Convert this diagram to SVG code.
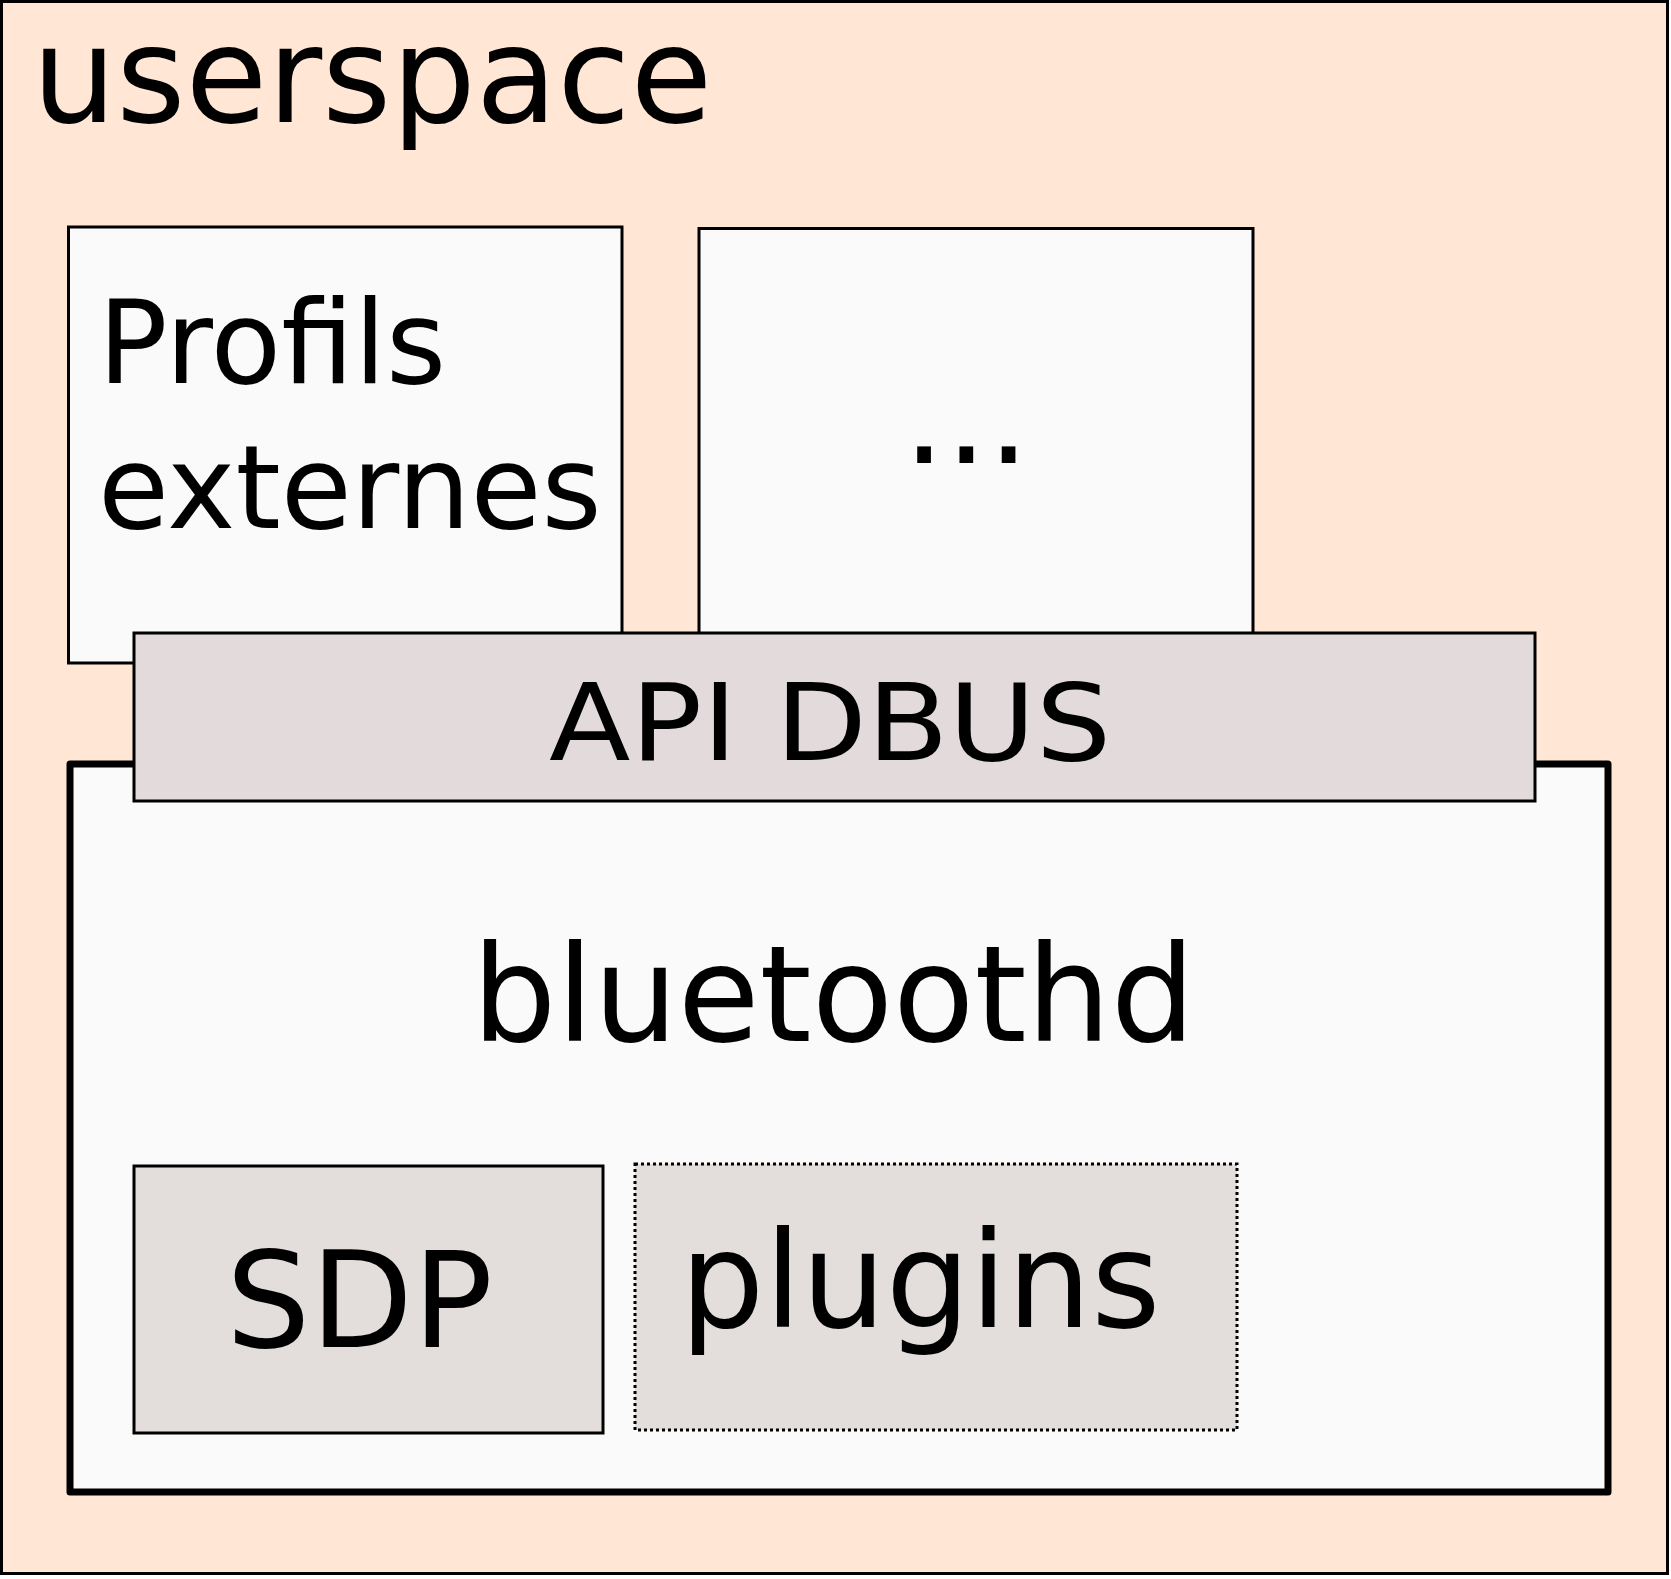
<svg xmlns="http://www.w3.org/2000/svg" width="1671" height="1579" viewBox="0 0 1671 1579">
<style>
text { font-family: "DejaVu Sans", "Liberation Sans", sans-serif; fill: #000; }
.box { stroke: #000; stroke-width: 3; }
.white { fill: #fafafa; }
.t133 { font-size: 133px; }
</style>
<g id="userspace">
<rect x="1.5" y="1.5" width="1666" height="1572" fill="#ffe6d5" stroke="#000" stroke-width="3"/>
<text class="t133" x="32" y="122">userspace</text>
</g>
<g id="profils">
<rect class="box white" x="68.5" y="227" width="553.5" height="436"/>
<text x="98" y="383" font-size="115.5">Profils</text>
<text x="98" y="528" font-size="115.5">externes</text>
</g>
<g id="etc">
<rect class="box white" x="699" y="228.5" width="554" height="450"/>
<text class="t133" x="903" y="463">...</text>
</g>
<g id="bluetoothd">
<rect class="white" x="70" y="764" width="1538" height="728" stroke="#000" stroke-width="7" stroke-linejoin="round"/>
<text class="t133" x="472" y="1041">bluetoothd</text>
</g>
<g id="api-dbus">
<rect class="box" x="134" y="633" width="1401" height="168" fill="#e3dbdb"/>
<text font-size="107" transform="translate(549 760) scale(1.113 1)" x="0" y="0">API DBUS</text>
</g>
<g id="sdp">
<rect class="box" x="134" y="1166" width="469" height="267" fill="#e3dedb"/>
<text class="t133" x="226" y="1347">SDP</text>
</g>
<g id="plugins">
<rect x="635" y="1164" width="602" height="266" fill="#e3dedb" stroke="#000" stroke-width="3" stroke-dasharray="3 3"/>
<text class="t133" x="680" y="1327">plugins</text>
</g>
<g id="connectors"></g>
</svg>
